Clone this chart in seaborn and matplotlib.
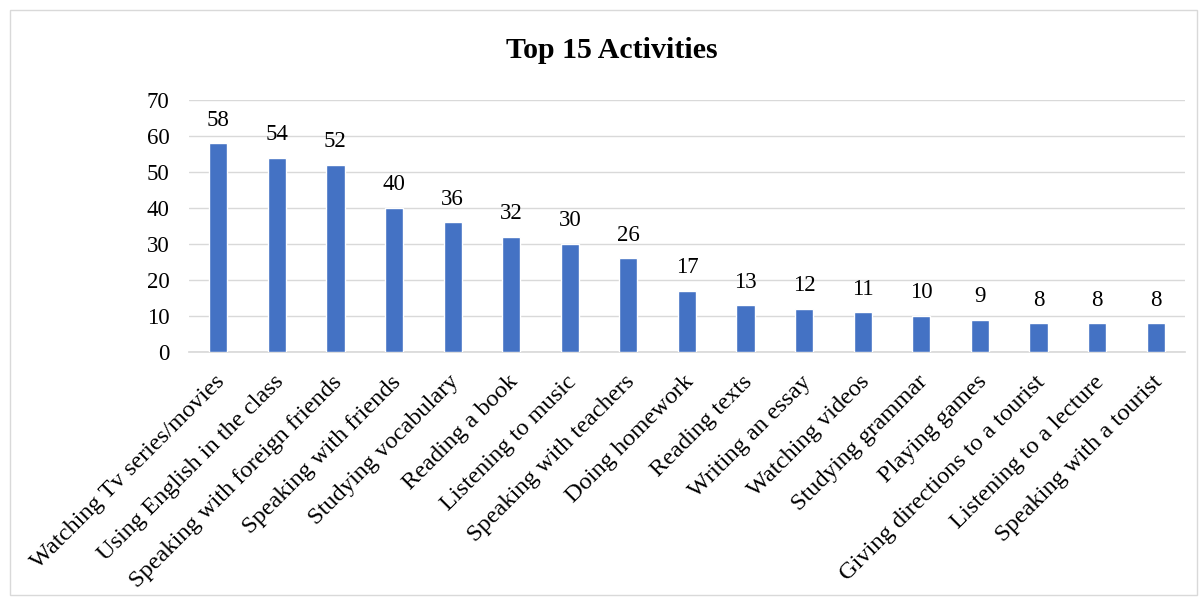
import matplotlib
matplotlib.use("Agg")
import matplotlib.pyplot as plt
import matplotlib.transforms as mtransforms
import seaborn as sns
import pandas as pd
from matplotlib.patches import Rectangle

categories = ["Watching Tv series/movies", "Using English in the class", "Speaking with foreign friends",
              "Speaking with friends", "Studying vocabulary", "Reading a book", "Listening to music",
              "Speaking with teachers", "Doing homework", "Reading texts", "Writing an essay",
              "Watching videos", "Studying grammar", "Playing games", "Giving directions to a tourist",
              "Listening to a lecture", "Speaking with a tourist"]
values = [58, 54, 52, 40, 36, 32, 30, 26, 17, 13, 12, 11, 10, 9, 8, 8, 8]
yticks = [0, 10, 20, 30, 40, 50, 60, 70]
title = "Top 15 Activities"

sns.set_theme(style="white")
plt.rcParams['font.family'] = ['Liberation Serif', 'DejaVu Serif']
plt.rcParams['text.color'] = 'black'

df = pd.DataFrame({"activity": categories, "count": values})

fig = plt.figure(figsize=(12.02, 5.98), dpi=100)
ax = fig.add_axes([0.1572, 0.4114, 0.8286, 0.4214])
sns.barplot(data=df, x="activity", y="count", color="#4472C4", width=0.31,
            saturation=1, ax=ax, zorder=3)

ax.set_ylim(0, 70)
ax.set_yticks(yticks)
ax.set_xlim(-0.5, len(categories) - 0.5)
ax.yaxis.grid(True, color="#D9D9D9", linewidth=1, zorder=0)
ax.set_axisbelow(True)
for s in ["top", "right", "left"]:
    ax.spines[s].set_visible(False)
ax.spines["bottom"].set_color("#D9D9D9")
ax.set_xlabel("")
ax.set_ylabel("")
ax.tick_params(axis="y", labelsize=16.5, colors="black", length=0, pad=14)
ax.tick_params(axis="x", labelsize=17.6, colors="black", length=0, pad=14)
ax.set_xticks(range(len(categories)))
ax.set_xticklabels(categories, rotation=45, ha="right", rotation_mode="anchor")
offset = mtransforms.ScaledTranslation(-4 / 100, 0, fig.dpi_scale_trans)
for lbl in ax.get_xticklabels():
    lbl.set_transform(lbl.get_transform() + offset)

for c in ax.containers:
    ax.bar_label(c, fontsize=16.5, padding=9, color="black")

fig.text(0.509, 0.915, title, ha="center", va="center", fontsize=21.5, fontweight="bold", color="black")
fig.patches.append(Rectangle((0.008, 0.005), 0.988, 0.978, transform=fig.transFigure,
                             fill=False, edgecolor="#D9D9D9", linewidth=1))

fig.savefig("out.png", dpi=100)
